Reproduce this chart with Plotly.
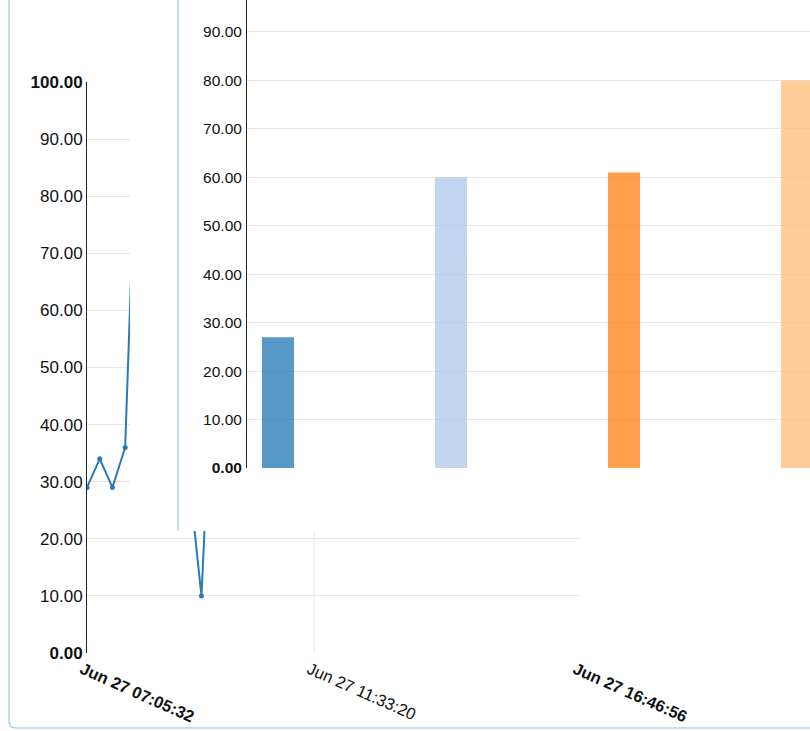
import plotly.graph_objects as go

# ---------------- data ----------------
line_times = [
    "2013-06-27 07:05:32", "2013-06-27 07:20:32", "2013-06-27 07:35:32",
    "2013-06-27 07:50:32", "2013-06-27 08:05:32", "2013-06-27 08:20:32",
    "2013-06-27 08:35:32", "2013-06-27 08:50:32", "2013-06-27 09:05:32",
    "2013-06-27 09:20:32", "2013-06-27 09:35:32", "2013-06-27 10:35:32",
    "2013-06-27 11:50:32", "2013-06-27 13:05:32", "2013-06-27 14:20:32",
    "2013-06-27 15:35:32", "2013-06-27 16:46:56",
]
line_values = [29, 34, 29, 36, 100, 85, 70, 90, 31, 10, 58, 55, 62, 48, 70, 66, 52]

x_tick_times = ["2013-06-27 07:05:32", "2013-06-27 11:33:20", "2013-06-27 16:46:56"]
x_tick_labels = ["Jun 27 07:05:32", "Jun 27 11:33:20", "Jun 27 16:46:56"]

line_y_ticks = [0, 10, 20, 30, 40, 50, 60, 70, 80, 90, 100]

bar_labels = ["Series 1", "Series 2", "Series 3", "Series 4"]
bar_values = [27, 60, 61, 80]
bar_colors = ["#1f77b4", "#aec7e8", "#ff7f0e", "#ffbb78"]
bar_y_ticks = [0, 10, 20, 30, 40, 50, 60, 70, 80, 90]

# ---------------- layout helpers ----------------
W, H = 810, 731
def fx(px):
    return px / W
def fy(py):
    return 1 - py / H

FONT = "Arial, Liberation Sans, sans-serif"
GRID = "#e6e6e6"
BORDER = "#abd7e4"

def bold_ends(labels):
    out = []
    for i, t in enumerate(labels):
        out.append(f"<b>{t}</b>" if i in (0, len(labels) - 1) else t)
    return out

line_y_text = bold_ends([f"{v:.2f}" for v in line_y_ticks])
bar_y_text = [f"<b>{v:.2f}</b>" if v == 0 else f"{v:.2f}" for v in bar_y_ticks]

fig = go.Figure()

# line chart (background)
fig.add_trace(go.Scatter(
    x=line_times, y=line_values, mode="lines+markers",
    line=dict(color="#2a7ab8", width=2),
    marker=dict(color="#2a7ab8", size=5),
    xaxis="x", yaxis="y", showlegend=False, hoverinfo="skip",
))

# empty trace to create the white cover subplot
fig.add_trace(go.Scatter(x=[], y=[], xaxis="x2", yaxis="y2",
                         showlegend=False, hoverinfo="skip"))

# bar chart (foreground)
fig.add_trace(go.Bar(
    x=bar_labels, y=bar_values, width=0.185,
    marker=dict(color=bar_colors, line=dict(width=0)), opacity=0.75,
    xaxis="x3", yaxis="y3", showlegend=False, hoverinfo="skip",
))

tickfont = dict(family=FONT, size=17, color="#111")

fig.update_layout(
    template="none",
    width=W, height=H, autosize=False,
    margin=dict(l=0, r=0, t=0, b=0, pad=0),
    paper_bgcolor="white", plot_bgcolor="white",
    showlegend=False,
    xaxis=dict(
        domain=[fx(87), fx(580)], anchor="y", type="date", automargin=False,
        range=[x_tick_times[0], x_tick_times[-1]],
        tickmode="array", tickvals=x_tick_times, ticktext=bold_ends(x_tick_labels),
        tickangle=24, showgrid=False, zeroline=False, showline=False, ticks="",
        ticklabelstandoff=3, ticklabelshift=-5,
        tickfont=dict(family=FONT, size=16.5, color="#111"),
    ),
    yaxis=dict(
        domain=[fy(653), fy(82)], anchor="x", range=[0, 100], automargin=False,
        tickmode="array", tickvals=line_y_ticks, ticktext=line_y_text,
        showgrid=True, gridcolor=GRID, gridwidth=1, zeroline=False,
        showline=True, linecolor="#222", linewidth=1, ticks="",
        ticklabelstandoff=0, tickfont=tickfont,
    ),
    xaxis2=dict(domain=[fx(130), 1], anchor="y2", visible=False, range=[0, 1],
                automargin=False),
    yaxis2=dict(domain=[fy(531), 1], anchor="x2", visible=False, range=[0, 1],
                automargin=False),
    xaxis3=dict(
        domain=[fx(247), 1], anchor="y3", type="category", automargin=False,
        range=[-0.179, 3.075], visible=False,
    ),
    yaxis3=dict(
        domain=[fy(468), 1], anchor="x3", range=[0, 96.6], automargin=False,
        tickmode="array", tickvals=bar_y_ticks, ticktext=bar_y_text,
        showgrid=True, gridcolor=GRID, gridwidth=1, zeroline=False,
        showline=True, linecolor="#222", linewidth=1, ticks="",
        ticklabelstandoff=1, tickfont=dict(family=FONT, size=15.5, color="#111"),
    ),
    shapes=[
        # vertical gridline of the line chart at the middle tick
        dict(type="line", xref="x", yref="y", x0=x_tick_times[1], x1=x_tick_times[1],
             y0=0, y1=100, line=dict(color=GRID, width=1), layer="below"),
        # border of the bar-chart panel
        dict(type="line", xref="paper", yref="paper", x0=fx(178), x1=fx(178),
             y0=fy(531), y1=1, line=dict(color=BORDER, width=1.5), layer="above"),
        # outer panel border
        dict(type="path", xref="paper", yref="paper",
             path=(f"M {fx(9)},{fy(-2)} L {fx(9)},{fy(721)} "
                   f"Q {fx(9)},{fy(728)} {fx(16)},{fy(728)} L {fx(815)},{fy(728)}"),
             line=dict(color=BORDER, width=1.5), layer="above"),
    ],
)

fig.write_html(
    "out.html",
    config={"displayModeBar": False, "staticPlot": True},
    post_script="document.body.style.margin='0px';document.body.style.overflow='hidden';",
)
